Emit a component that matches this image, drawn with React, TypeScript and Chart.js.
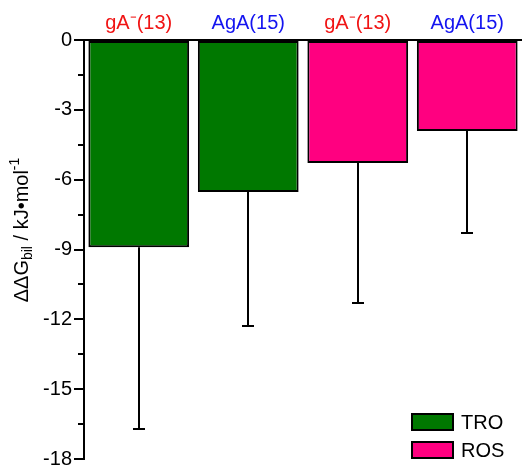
import React, { useEffect, useRef } from "react";
import { Chart, registerables } from "chart.js";

Chart.register(...registerables);

const categories = ["gA\u207B(13)", "AgA(15)", "gA\u207B(13)", "AgA(15)"];
const categoryColors = ["#f01414", "#1414f0", "#f01414", "#1414f0"];
const troValues = [-8.9, -6.53, null, null];
const rosValues = [null, null, -5.28, -3.91];
const errorLow = [-16.71, -12.29, -11.3, -8.29];
const yTicks = [0, -3, -6, -9, -12, -15, -18];
const seriesNames = ["TRO", "ROS"];
const seriesColors = ["#007800", "#ff0080"];

const FONT = "'Liberation Sans', Arial, sans-serif";

const customPlugin = {
  id: "custom",
  afterDatasetsDraw(chart: any) {
    const ctx = chart.ctx;
    const y = chart.scales.y;
    const x = chart.scales.x;
    const area = chart.chartArea;
    ctx.save();
    // error bars
    ctx.strokeStyle = "#000";
    ctx.lineWidth = 2;
    errorLow.forEach((lo, i) => {
      const v = troValues[i] ?? rosValues[i];
      if (v == null) return;
      const cx = Math.round(x.getPixelForValue(i));
      const y0 = y.getPixelForValue(v);
      const y1 = y.getPixelForValue(lo);
      ctx.beginPath();
      ctx.moveTo(cx, y0);
      ctx.lineTo(cx, y1);
      ctx.moveTo(cx - 6, y1);
      ctx.lineTo(cx + 6, y1);
      ctx.stroke();
    });
    // minor ticks
    for (let i = 0; i < yTicks.length - 1; i++) {
      const mv = (yTicks[i] + yTicks[i + 1]) / 2;
      const py = Math.round(y.getPixelForValue(mv));
      ctx.beginPath();
      ctx.moveTo(area.left - 6, py);
      ctx.lineTo(area.left, py);
      ctx.stroke();
    }
    // legend
    ctx.font = `20px ${FONT}`;
    ctx.textBaseline = "middle";
    ctx.textAlign = "left";
    seriesNames.forEach((name, i) => {
      const by = 414 + i * 28;
      ctx.fillStyle = seriesColors[i];
      ctx.fillRect(412, by, 41, 16);
      ctx.strokeStyle = "#000";
      ctx.lineWidth = 2;
      ctx.strokeRect(412, by, 41, 16);
      ctx.fillStyle = "#000";
      ctx.fillText(name, 461, by + 9);
    });
    // y title
    ctx.translate(28, 230);
    ctx.rotate(-Math.PI / 2);
    ctx.textBaseline = "alphabetic";
    const segs = [
      { t: "\u0394\u0394G", s: 20, dy: 0 },
      { t: "bil", s: 14, dy: 4 },
      { t: " / kJ\u2022mol", s: 20, dy: 0 },
      { t: "-1", s: 14, dy: -9 },
    ];
    let total = 0;
    segs.forEach((sg) => {
      ctx.font = `${sg.s}px ${FONT}`;
      total += ctx.measureText(sg.t).width;
    });
    let px = -total / 2;
    ctx.fillStyle = "#000";
    segs.forEach((sg) => {
      ctx.font = `${sg.s}px ${FONT}`;
      ctx.fillText(sg.t, px, sg.dy);
      px += ctx.measureText(sg.t).width;
    });
    ctx.restore();
  },
};

export default function App() {
  const ref = useRef<HTMLCanvasElement>(null);
  useEffect(() => {
    document.body.style.margin = "0";
    const chart = new Chart(ref.current!, {
      type: "bar",
      data: {
        labels: categories,
        datasets: [
          {
            label: seriesNames[0],
            data: troValues,
            backgroundColor: seriesColors[0],
            borderColor: "#000",
            borderWidth: 2,
            borderSkipped: false,
          },
          {
            label: seriesNames[1],
            data: rosValues,
            backgroundColor: seriesColors[1],
            borderColor: "#000",
            borderWidth: 2,
            borderSkipped: false,
          },
        ],
      },
      options: {
        animation: false,
        responsive: false,
        maintainAspectRatio: false,
        skipNull: true,
        barPercentage: 0.92,
        categoryPercentage: 1,
        layout: { padding: { left: 0, right: 0, top: 0, bottom: 7 } },
        plugins: {
          legend: { display: false },
          tooltip: { enabled: false },
        },
        scales: {
          x: {
            position: "top",
            grid: { display: false, drawTicks: false },
            border: { display: true, color: "#000", width: 2 },
            ticks: {
              color: (c: any) => categoryColors[c.index],
              font: { family: FONT, size: 20 },
              padding: 5,
              maxRotation: 0,
            },
            afterFit: (s: any) => {
              s.height = 40;
              s.paddingLeft = 0;
              s.paddingRight = 0;
            },
          },
          y: {
            min: -18,
            max: 0,
            afterBuildTicks: (s: any) => {
              s.ticks = yTicks.map((v) => ({ value: v }));
            },
            grid: {
              display: true,
              drawOnChartArea: false,
              drawTicks: true,
              tickLength: 10,
              color: "#000",
              lineWidth: 2,
            },
            border: { display: true, color: "#000", width: 2 },
            ticks: {
              color: "#000",
              font: { family: FONT, size: 20 },
              padding: 2,
            },
            afterFit: (s: any) => {
              s.width = 84;
              s.paddingTop = 0;
              s.paddingBottom = 0;
            },
          },
        },
      } as any,
      plugins: [customPlugin],
    });
    return () => chart.destroy();
  }, []);
  return (
    <div style={{ position: "absolute", left: 0, top: 0, width: 522, height: 466 }}>
      <canvas ref={ref} width={522} height={466} style={{ width: 522, height: 466 }} />
    </div>
  );
}
